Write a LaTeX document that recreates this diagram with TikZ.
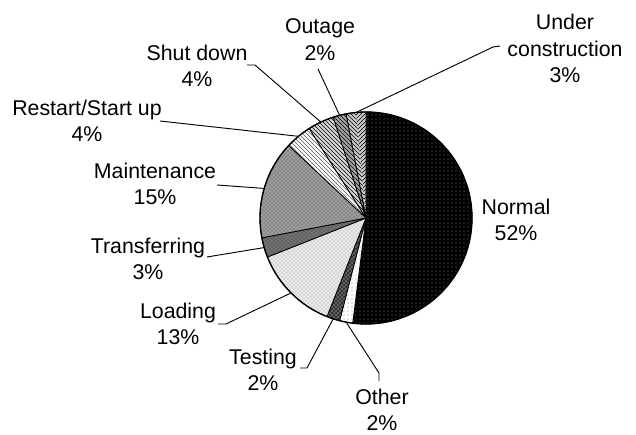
\documentclass[tikz,border=0pt]{standalone}
\usepackage{fontspec}
\setmainfont{Liberation Sans}
\usetikzlibrary{patterns}
\begin{document}
\begin{tikzpicture}[x=0.75pt,y=0.75pt,
  lbl/.style={align=center, font=\fontsize{16}{19.9}\selectfont, inner sep=0pt},
  leader/.style={draw=black, line width=0.7pt, line join=round},
  wedge/.style={draw=black, line width=0.6pt, line join=round},
  bare/.style={draw=none},
]
\useasboundingbox (0,0) rectangle (636,435);
\coordinate (c) at (366,217);
\def\pieR{106}
\newcommand\pieslice[3]{\path[wedge,#3] (c) -- ++(#1:\pieR) arc[start angle=#1, end angle=#2, radius=\pieR] -- cycle;}

% slices, clockwise from twelve o'clock
\pieslice{90}{-97.2}{preaction={fill=black}, pattern=dots, pattern color=black!55}
\pieslice{-97.2}{-104.4}{preaction={fill=white}, pattern=dots, pattern color=black!45}
\pieslice{-104.4}{-111.6}{preaction={fill=black!80}, pattern=crosshatch dots, pattern color=white}
\pieslice{-111.6}{-158.4}{preaction={fill=black!8}, pattern=crosshatch dots, pattern color=black!45}
\pieslice{-158.4}{-169.2}{preaction={fill=black!55}, pattern=crosshatch dots, pattern color=black!85}
\pieslice{-169.2}{-223.2}{preaction={fill=black!38}, pattern=crosshatch dots, pattern color=black!75}
\pieslice{-223.2}{-237.6}{preaction={fill=white}, pattern=north west lines, pattern color=black!65}
\pieslice{-237.6}{-252}{preaction={fill=black!15}, pattern=north west lines, pattern color=black}
\pieslice{-252}{-259.2}{preaction={fill=black!35}, pattern=north west lines, pattern color=black}
\pieslice{-259.2}{-264.6}{bare, preaction={fill=black!20}, pattern=north west lines, pattern color=black}
\pieslice{-264.6}{-270}{bare, preaction={fill=black!20}, pattern=north east lines, pattern color=black}
\pieslice{-259.2}{-270}{}
\draw[line width=1pt] (c) circle[radius=\pieR];

% points on the rim at the middle of each slice
\path (c) ++(-100.8:\pieR) coordinate (rOther);
\path (c) ++(-108:\pieR) coordinate (rTesting);
\path (c) ++(-135:\pieR) coordinate (rLoading);
\path (c) ++(-163.8:\pieR) coordinate (rTransfer);
\path (c) ++(-196.2:\pieR) coordinate (rMaint);
\path (c) ++(-230.4:\pieR) coordinate (rRestart);
\path (c) ++(-244.8:\pieR) coordinate (rShut);
\path (c) ++(-255.6:\pieR) coordinate (rOutage);
\path (c) ++(-264.6:\pieR) coordinate (rUnder);

% labels
\node[lbl] (lNormal) at (516,215.25) {Normal\\52\%};
\node[lbl] (lOther) at (382,25.25) {Other\\2\%};
\node[lbl] (lTesting) at (263,65.25) {Testing\\2\%};
\node[lbl] (lLoading) at (178,111.25) {Loading\\13\%};
\node[lbl] (lTransfer) at (148,176.25) {Transferring\\3\%};
\node[lbl] (lMaint) at (155,251.25) {Maintenance\\15\%};
\node[lbl] (lRestart) at (87,314.25) {Restart/Start up\\4\%};
\node[lbl] (lShut) at (197,369.25) {Shut down\\4\%};
\node[lbl] (lOutage) at (320,395.25) {Outage\\2\%};
\node[lbl] (lUnder) at (565,386.5) {Under\\construction\\3\%};

% leader lines
\coordinate (oA) at (379,54);   \coordinate (oB) at (379,62);
\coordinate (tA) at (300,67);   \coordinate (tB) at (307,67);
\coordinate (dA) at (218,111);  \coordinate (dB) at (226,111);
\coordinate (fA) at (207,178);
\coordinate (mA) at (217,250);
\coordinate (sA) at (160,314);
\coordinate (hA) at (247,370);  \coordinate (hB) at (255,370);
\coordinate (gA) at (318,366);
\coordinate (uA) at (500,389);  \coordinate (uB) at (493,388);

\draw[leader] (oA) -- (oB) -- (rOther);
\draw[leader] (tA) -- (tB) -- (rTesting);
\draw[leader] (dA) -- (dB) -- (rLoading);
\draw[leader] (fA) -- (rTransfer);
\draw[leader] (mA) -- (rMaint);
\draw[leader] (sA) -- (rRestart);
\draw[leader] (hA) -- (hB) -- (rShut);
\draw[leader] (gA) -- (rOutage);
\draw[leader] (uA) -- (uB) -- (rUnder);
\end{tikzpicture}
\end{document}
